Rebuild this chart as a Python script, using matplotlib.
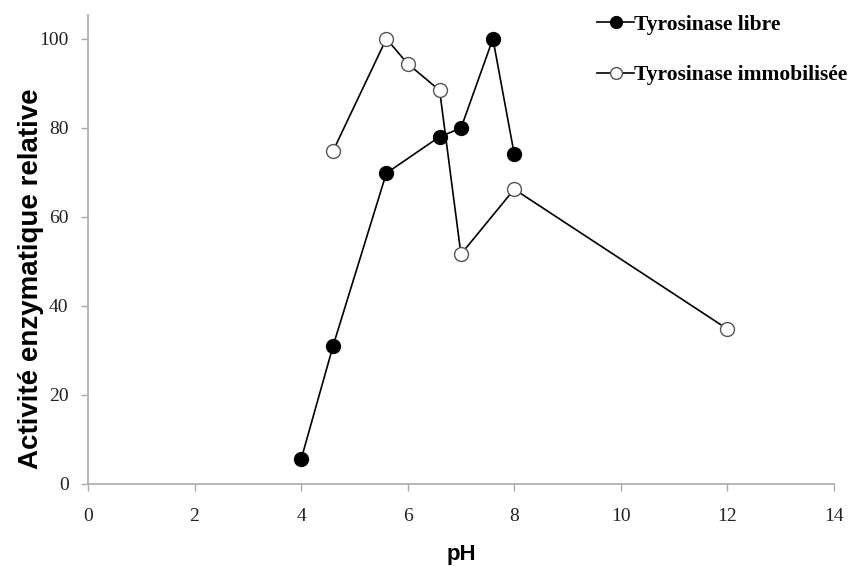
import matplotlib.pyplot as plt

# données
ph_libre = [4.0, 4.6, 5.6, 6.6, 7.0, 7.6, 8.0]
act_libre = [5.5, 31.0, 69.8, 78.0, 79.9, 100.0, 74.1]

ph_immo = [4.6, 5.6, 6.0, 6.6, 7.0, 8.0, 12.0]
act_immo = [74.8, 100.0, 94.4, 88.4, 51.6, 66.2, 34.8]

x_ticks = [0, 2, 4, 6, 8, 10, 12, 14]
y_ticks = [0, 20, 40, 60, 80, 100]


def main():
    fig = plt.figure(figsize=(8.54, 5.66), dpi=100)
    ax = fig.add_axes([0.103, 0.145, 0.8735, 0.829])

    l1, = ax.plot(ph_libre, act_libre, color='black', lw=1.2, marker='o',
                  ms=10, mfc='black', mec='black', label='Tyrosinase libre')
    l2, = ax.plot(ph_immo, act_immo, color='black', lw=1.2, marker='o',
                  ms=10, mfc='white', mec='#555555', mew=1.0,
                  label='Tyrosinase immobilisée')

    ax.set_xlim(0, 14)
    ax.set_ylim(0, 105.4)
    ax.set_xticks(x_ticks)
    ax.set_yticks(y_ticks)
    for s in ['top', 'right']:
        ax.spines[s].set_visible(False)
    for s in ['left', 'bottom']:
        ax.spines[s].set_color('#aaaaaa')
        ax.spines[s].set_linewidth(1.2)
    ax.tick_params(direction='out', length=5, color='#aaaaaa', width=1.0,
                   labelsize=14, labelcolor='#222222', pad=9)
    for lab in ax.get_xticklabels() + ax.get_yticklabels():
        lab.set_family('Liberation Serif')
    ax.tick_params(axis='x', pad=12)

    ax.set_xlabel('pH', fontsize=16, fontweight='bold',
                  family='Liberation Sans', labelpad=14)
    fig.text(0.036, 0.507, 'Activité enzymatique relative', rotation=90,
             ha='center', va='center', fontsize=20, fontweight='bold',
             family='Liberation Sans')

    fig.legend(handles=[l1, l2], loc='upper left',
               bbox_to_anchor=(0.676, 1.008), frameon=False,
               prop={'family': 'Liberation Serif', 'weight': 'bold', 'size': 15.5},
               handlelength=1.75, handletextpad=0.0, labelspacing=1.4,
               markerscale=0.85)

    fig.savefig('out.png', dpi=100)


if __name__ == '__main__':
    main()
